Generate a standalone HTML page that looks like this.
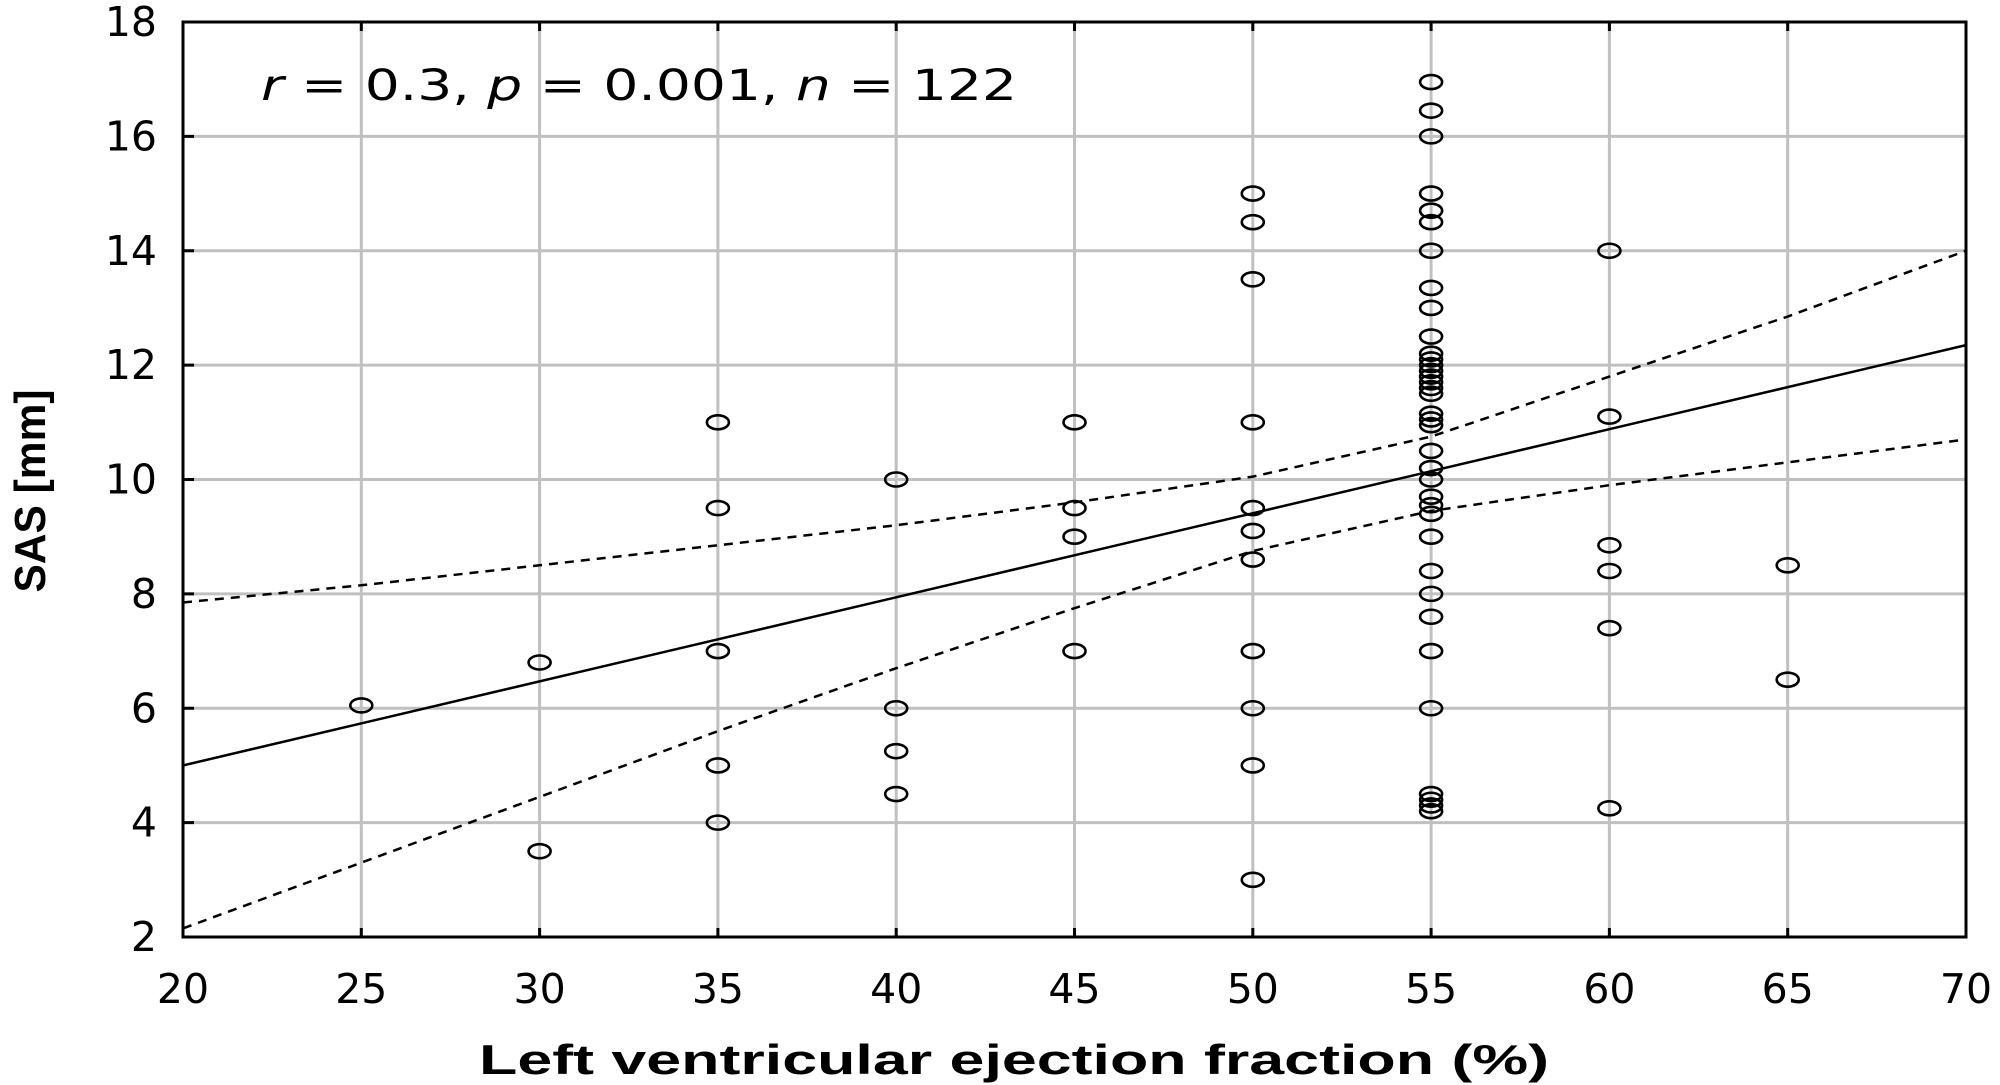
<!DOCTYPE html>
<html><head><meta charset="utf-8"><style>
html,body{margin:0;padding:0;background:#fff;}
svg{display:block;font-family:"Liberation Sans","DejaVu Sans",sans-serif;}
</style></head><body>
<svg id="chart" width="2000" height="1085" viewBox="0 0 2000 1085" xmlns="http://www.w3.org/2000/svg">
<g id="grid"></g>
<g id="lines"></g>
<g id="points"></g>
<g id="axes"></g>
<text x="261" y="100" font-size="43" font-family="DejaVu Sans, sans-serif" textLength="756" lengthAdjust="spacingAndGlyphs"><tspan font-style="italic">r</tspan> = 0.3, <tspan font-style="italic">p</tspan> = 0.001, <tspan font-style="italic">n</tspan> = 122</text>
<text x="1014" y="1074" font-size="42" font-weight="bold" text-anchor="middle" textLength="1070" lengthAdjust="spacingAndGlyphs">Left ventricular ejection fraction (%)</text>
<text x="0" y="0" font-size="44" font-weight="bold" text-anchor="middle" transform="translate(45,491) rotate(-90)" textLength="203" lengthAdjust="spacingAndGlyphs">SAS [mm]</text>
</svg>
<script>
const xTicks=[20,25,30,35,40,45,50,55,60,65,70];
const yTicks=[2,4,6,8,10,12,14,16,18];
const ptX=[25,30,30,35,35,35,35,35,40,40,40,40,45,45,45,45,
50,50,50,50,50,50,50,50,50,50,50,
55,55,55,55,55,55,55,55,55,55,55,55,55,55,55,55,55,55,55,55,55,55,55,55,55,55,55,55,55,55,55,55,55,55,55,55,55,
60,60,60,60,60,60,65,65];
const ptY=[6.05,6.8,3.5,11,9.5,7,5,4,10,6,5.25,4.5,11,9.5,9,7,
15,14.5,13.5,11,9.5,9.1,8.6,7,6,5,3,
16.95,16.45,16,15,14.7,14.5,14,13.35,13,12.5,12.2,12.1,12.0,11.9,11.8,11.7,11.6,11.5,11.15,11.05,10.95,10.5,10.2,10.0,9.7,9.55,9.4,9.0,8.4,8.0,7.6,7.0,6.0,4.5,4.4,4.3,4.2,
14,11.1,8.85,8.4,7.4,4.25,8.5,6.5];
const fitX=[20,70];
const fitY=[5.0,12.35];
const ciX=[20,25,30,35,40,45,50,55,60,65,70];
const ciUpper=[7.85,8.15,8.5,8.85,9.2,9.6,10.05,10.75,11.8,12.85,14.0];
const ciLower=[2.15,3.3,4.45,5.6,6.7,6.75+1.0,8.75,9.45,9.9,10.3,10.7];

const L=183,R=1966,T=22,B=937;
const sx=v=>L+(v-20)/(70-20)*(R-L);
const sy=v=>B-(v-2)/(18-2)*(B-T);
const NS="http://www.w3.org/2000/svg";
function mk(tag,parent,attrs){const e=document.createElementNS(NS,tag);for(const k in attrs)e.setAttribute(k,attrs[k]);parent.appendChild(e);return e;}
const grid=document.getElementById('grid'),axes=document.getElementById('axes'),lines=document.getElementById('lines'),pts=document.getElementById('points');
xTicks.forEach(t=>{
  if(t>20&&t<70){const g=mk('line',grid,{x1:sx(t),x2:sx(t),y1:T,y2:B,stroke:'#c0c0c0','stroke-width':3});
  
  
  const tk=mk('line',axes,{x1:sx(t),x2:sx(t),y1:B,y2:B-9,stroke:'#000','stroke-width':3});
  
  
  const tk2=mk('line',axes,{x1:sx(t),x2:sx(t),y1:T,y2:T+9,stroke:'#000','stroke-width':3});
  
  }
  const lb=mk('text',axes,{x:sx(t),y:1003,'font-size':41,'text-anchor':'middle','font-family':'DejaVu Sans, sans-serif'});
  
  
  lb.textContent=t;
});
yTicks.forEach(t=>{
  if(t>2&&t<18){const g=mk('line',grid,{x1:L,x2:R,y1:sy(t),y2:sy(t),stroke:'#c0c0c0','stroke-width':3});
  
  
  const tk=mk('line',axes,{x1:L,x2:L+11,y1:sy(t),y2:sy(t),stroke:'#000','stroke-width':3});
  
  }
  const lb=mk('text',axes,{x:157,y:sy(t)+14,'font-size':41,'text-anchor':'end','font-family':'DejaVu Sans, sans-serif'});
  
  
  lb.textContent=t;
});
const frame=mk('rect',axes,{x:L,y:T,width:R-L,height:B-T,fill:'none',stroke:'#000','stroke-width':3});


const fit=mk('polyline',lines,{points:fitX.map((x,i)=>sx(x)+','+sy(fitY[i])).join(' '),fill:'none',stroke:'#000','stroke-width':2.5});


const up=mk('polyline',lines,{points:ciX.map((x,i)=>sx(x)+','+sy(ciUpper[i])).join(' '),fill:'none',stroke:'#000','stroke-width':2.5,'stroke-dasharray':'9,7'});


const lo=mk('polyline',lines,{points:ciX.map((x,i)=>sx(x)+','+sy(ciLower[i])).join(' '),fill:'none',stroke:'#000','stroke-width':2.5,'stroke-dasharray':'9,7'});


ptX.forEach((x,i)=>{
  const c=mk('ellipse',pts,{cx:sx(x),cy:sy(ptY[i]),rx:11,ry:7,fill:'none',stroke:'#000','stroke-width':2.6});
  
  
});
</script>
</body></html>
